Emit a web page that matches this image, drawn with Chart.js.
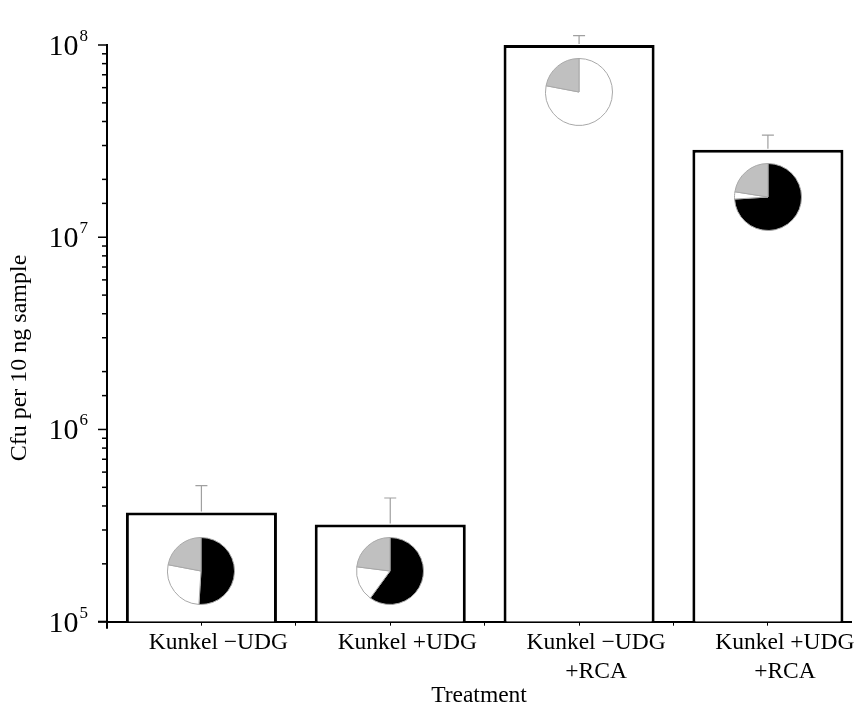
<!DOCTYPE html>
<html>
<head>
<meta charset="utf-8">
<script src="https://cdn.jsdelivr.net/npm/chart.js@4.4.1/dist/chart.umd.min.js"></script>
<style>
  body { margin: 0; background: #fff; }
  #wrap { position: relative; width: 858px; height: 708px; }
  .pie { position: absolute; width: 68px; height: 68px; }
</style>
</head>
<body>
<div id="wrap">
  <canvas id="cfuChart" width="858" height="708"></canvas>
</div>
<script>
// data
var categories = [['Kunkel \u2212UDG'], ['Kunkel +UDG'], ['Kunkel \u2212UDG', '+RCA'], ['Kunkel +UDG', '+RCA']];
var cfu = [3.7e5, 3.2e5, 1.0e8, 2.85e7];
var cfuUpper = [5.1e5, 4.4e5, 1.12e8, 3.4e7];   // top of error bar
var yTickValues = [1e5, 1e6, 1e7, 1e8];
// pie fractions (%), clockwise from 12 o'clock
var pieBlack = [51, 60, 0, 74];
var pieWhite = [27, 17, 78, 3.5];
var pieGray = [22, 23, 22, 22.5];

var serif = '"Liberation Serif", "Times New Roman", serif';

// log ticks, superscript labels, error bars, y title
var axisDecor = {
  id: 'axisDecor',
  afterDatasetsDraw: function(chart) {
    var c = chart.ctx, xs = chart.scales.x, ys = chart.scales.y;
    c.save();
    c.strokeStyle = '#a0a0a0';
    c.lineWidth = 1.2;
    for (var i = 0; i < cfu.length; i++) {
      var x = xs.getPixelForValue(i);
      var y0 = ys.getPixelForValue(cfu[i]);
      var y1 = ys.getPixelForValue(cfuUpper[i]);
      c.beginPath();
      c.moveTo(x, y0 - 1);
      c.lineTo(x, y1);
      c.moveTo(x - 6, y1);
      c.lineTo(x + 6, y1);
      c.stroke();
    }
    c.restore();
  },
  afterDraw: function(chart) {
    var c = chart.ctx, ys = chart.scales.y, area = chart.chartArea;
    c.save();
    c.strokeStyle = '#000';
    c.fillStyle = '#000';
    c.lineWidth = 1.5;
    ys.ticks.forEach(function(t) {
      var y = ys.getPixelForValue(t.value);
      var e = Math.log10(t.value);
      var major = Math.abs(e - Math.round(e)) < 1e-6;
      c.beginPath();
      c.moveTo(area.left - (major ? 9 : 5), y);
      c.lineTo(area.left, y);
      c.stroke();
      if (major && yTickValues.indexOf(t.value) >= 0) {
        var right = area.left - 19;
        c.font = '17px ' + serif;
        c.textBaseline = 'alphabetic';
        c.textAlign = 'right';
        var expTxt = String(Math.round(e));
        var ew = c.measureText(expTxt).width;
        c.fillText(expTxt, right, y - 4);
        c.font = '30px ' + serif;
        c.textBaseline = 'middle';
        c.fillText('10', right - ew - 1, y + 2);
      }
    });
    // axis stubs past the origin
    c.lineWidth = 2;
    c.beginPath();
    c.moveTo(area.left, area.bottom);
    c.lineTo(area.left, area.bottom + 7);
    c.moveTo(area.left - 9, area.bottom);
    c.lineTo(area.left, area.bottom);
    c.stroke();
    // y title
    c.translate(20, 358);
    c.rotate(-Math.PI / 2);
    c.font = '24px ' + serif;
    c.textAlign = 'center';
    c.textBaseline = 'middle';
    c.fillText('Cfu per 10 ng sample', 0, 0);
    c.restore();
  }
};

var ctx = document.getElementById('cfuChart').getContext('2d');
var chart = new Chart(ctx, {
  type: 'bar',
  data: {
    datasets: [{
      data: categories.map(function(c, i) { return { x: i, y: cfu[i] }; }),
      backgroundColor: '#fff',
      borderColor: '#000',
      borderWidth: 3,
      borderSkipped: 'bottom',
      barPercentage: 1.6,   // ruler is the half-step tick spacing
      categoryPercentage: 1
    }]
  },
  options: {
    responsive: false,
    animation: false,
    devicePixelRatio: 1,
    layout: { padding: { top: 45, right: 7, left: 0, bottom: 0 } },
    plugins: { legend: { display: false }, tooltip: { enabled: false } },
    scales: {
      x: {
        type: 'linear',
        offset: false,
        min: -0.5,
        max: 3.44,
        afterFit: function(s) { s.height = 86.3; },
        grid: { offset: false, drawOnChartArea: false, tickLength: 4, color: '#000', lineWidth: 1 },
        border: { color: '#000', width: 2 },
        ticks: {
          stepSize: 0.5,
          includeBounds: false,
          autoSkip: false,
          maxRotation: 0,
          padding: 3,
          labelOffset: 17,
          color: '#000',
          font: { family: serif, size: 23.5, lineHeight: 1.23 },
          callback: function(v) { return Number.isInteger(v) ? categories[v] : ''; }
        },
        title: { display: true, text: 'Treatment', color: '#000', padding: 0,
                 font: { family: serif, size: 23.5, lineHeight: 1 } }
      },
      y: {
        type: 'logarithmic',
        min: 1e5,
        max: 1e8,
        afterFit: function(s) { s.width = 107; },
        grid: { display: false },
        border: { display: true, color: '#000', width: 2 },
        ticks: { autoSkip: false, callback: function() { return ''; } }
      }
    }
  },
  plugins: [axisDecor]
});

// small pies sitting in each bar
var wrap = document.getElementById('wrap');
var xs = chart.scales.x, ys = chart.scales.y;
for (var i = 0; i < cfu.length; i++) {
  var cx = xs.getPixelForValue(i);
  var barTop = ys.getPixelForValue(cfu[i]);
  // short bars: pie near the base; tall bars: pie just under the top
  var cy = (ys.bottom - barTop < 120) ? ys.bottom - 51 : barTop + 47;
  var box = document.createElement('div');
  box.className = 'pie';
  box.style.left = (cx - 34) + 'px';
  box.style.top = (cy - 34) + 'px';
  var cv = document.createElement('canvas');
  cv.width = 68; cv.height = 68;
  box.appendChild(cv);
  wrap.appendChild(box);
  new Chart(cv.getContext('2d'), {
    type: 'pie',
    data: {
      labels: ['black', 'white', 'gray'],
      datasets: [{
        data: [pieBlack[i], pieWhite[i], pieGray[i]],
        backgroundColor: ['#000', '#fff', '#c0c0c0'],
        borderColor: '#a8a8a8',
        borderWidth: 1
      }]
    },
    options: {
      responsive: false,
      animation: false,
      devicePixelRatio: 1,
      layout: { padding: 0 },
      plugins: { legend: { display: false }, tooltip: { enabled: false } }
    }
  });
}
</script>
</body>
</html>
